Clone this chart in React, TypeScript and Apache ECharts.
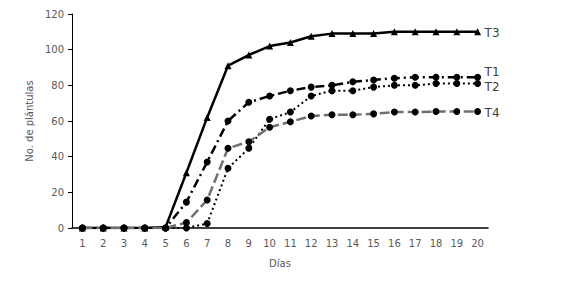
import React, { useEffect, useRef } from "react";
import * as echarts from "echarts";

const days = ["1","2","3","4","5","6","7","8","9","10","11","12","13","14","15","16","17","18","19","20"];
const t1 = [0, 0, 0, 0, 0, 14.5, 37, 60, 70.5, 74, 77, 79, 80, 82, 83, 84, 84.5, 84.5, 84.5, 84.5];
const t2 = [0, 0, 0, 0, 0, 0, 2.5, 33.5, 44.7, 61, 65, 74, 77, 77, 79, 80, 80, 81, 81, 81];
const t3 = [0, 0, 0, 0, 0.5, 31, 62, 91, 97, 102, 104, 107.5, 109, 109, 109, 110, 110, 110, 110, 110];
const t4 = [0, 0, 0, 0, 0, 3, 15.7, 44.7, 48.4, 56.5, 59.6, 62.8, 63.5, 63.5, 64, 65, 65, 65.3, 65.3, 65.3];

const FONT = "DejaVu Sans";

export default function App() {
  const ref = useRef<HTMLDivElement>(null);
  useEffect(() => {
    const chart = echarts.init(ref.current!, null, { renderer: "svg" });
    const lbl = (name: string, dy: number) => ({
      show: true,
      formatter: name,
      color: "#404040",
      fontFamily: FONT,
      fontSize: 12,
      offset: [0, dy],
      distance: 7,
    });
    chart.setOption({
      animation: false,
      grid: { left: 72, right: 96, top: 14, bottom: 60 },
      xAxis: {
        type: "category",
        data: days,
        boundaryGap: true,
        name: "Días",
        nameLocation: "middle",
        nameGap: 30,
        nameTextStyle: { color: "#595959", fontFamily: FONT, fontSize: 10 },
        axisLine: { lineStyle: { color: "#000", width: 1.5 } },
        axisTick: { show: false },
        axisLabel: { color: "#595959", fontFamily: FONT, fontSize: 10, margin: 10, interval: 0 },
      },
      yAxis: {
        type: "value",
        min: 0,
        max: 120,
        interval: 20,
        name: "No. de plántulas",
        nameLocation: "middle",
        nameGap: 38,
        nameTextStyle: { color: "#595959", fontFamily: FONT, fontSize: 10 },
        axisLine: { show: true, lineStyle: { color: "#000", width: 1 } },
        axisTick: { show: true, length: 4, lineStyle: { color: "#000" } },
        splitLine: { show: false },
        axisLabel: { color: "#595959", fontFamily: FONT, fontSize: 10, margin: 8 },
      },
      series: [
        {
          name: "T3",
          type: "line",
          data: t3,
          symbol: "triangle",
          symbolSize: 7,
          itemStyle: { color: "#000" },
          lineStyle: { color: "#000", width: 2.5 },
          endLabel: lbl("T3", 1),
        },
        {
          name: "T1",
          type: "line",
          data: t1,
          symbol: "circle",
          symbolSize: 7,
          itemStyle: { color: "#000" },
          lineStyle: { color: "#000", width: 2.5, type: [9, 4, 2, 4] },
          endLabel: lbl("T1", -5),
        },
        {
          name: "T2",
          type: "line",
          data: t2,
          symbol: "circle",
          symbolSize: 7,
          itemStyle: { color: "#000" },
          lineStyle: { color: "#000", width: 2, type: [2, 3] },
          endLabel: lbl("T2", 3),
        },
        {
          name: "T4",
          type: "line",
          data: t4,
          symbol: "circle",
          symbolSize: 7,
          itemStyle: { color: "#000" },
          lineStyle: { color: "#707070", width: 2.5, type: [10, 4] },
          endLabel: lbl("T4", 1),
        },
      ],
    });
    return () => chart.dispose();
  }, []);
  return <div ref={ref} style={{ position: "absolute", left: 0, top: 0, width: 584, height: 288 }} />;
}
